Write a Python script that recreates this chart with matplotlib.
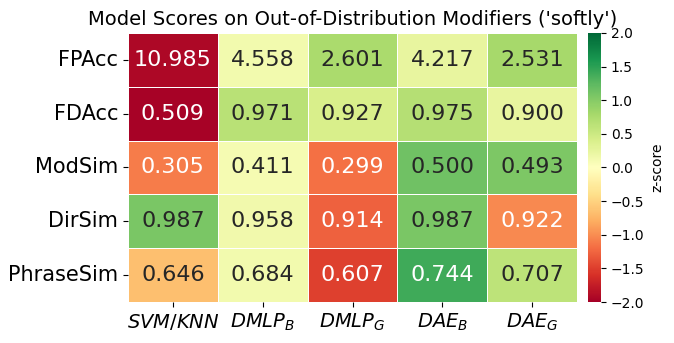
import numpy as np
import pandas as pd
import matplotlib
matplotlib.use("Agg")
import matplotlib.pyplot as plt
import seaborn as sns

models = ["$SVM/KNN$", "$DMLP_B$", "$DMLP_G$", "$DAE_B$", "$DAE_G$"]
metrics = ["FPAcc", "FDAcc", "ModSim", "DirSim", "PhraseSim"]

fpacc = [10.985, 4.558, 2.601, 4.217, 2.531]
fdacc = [0.509, 0.971, 0.927, 0.975, 0.900]
modsim = [0.305, 0.411, 0.299, 0.500, 0.493]
dirsim = [0.987, 0.958, 0.914, 0.987, 0.922]
phrasesim = [0.646, 0.684, 0.607, 0.744, 0.707]

scores = pd.DataFrame([fpacc, fdacc, modsim, dirsim, phrasesim],
                      index=metrics, columns=models)

# row-wise z-scores; FPAcc is lower-is-better so flip its sign
z = scores.sub(scores.mean(axis=1), axis=0).div(scores.std(axis=1, ddof=0), axis=0)
z.loc["FPAcc"] = -z.loc["FPAcc"]

fig = plt.figure(figsize=(6.74, 3.43), dpi=100)
ax = fig.add_axes([128/674, 1 - 302/343, 449/674, 269/343])
cax = fig.add_axes([588/674, 1 - 302/343, 13/674, 269/343])

sns.heatmap(z, annot=scores.values, fmt=".3f", cmap="RdYlGn", vmin=-2, vmax=2,
            linewidths=0.5, linecolor="white", ax=ax, cbar_ax=cax,
            annot_kws={"fontsize": 16}, cbar_kws={"label": "z-score"})

ax.set_title("Model Scores on Out-of-Distribution Modifiers ('softly')", fontsize=14)
ax.set_xticklabels(ax.get_xticklabels(), fontsize=14, rotation=0)
ax.set_yticklabels(ax.get_yticklabels(), fontsize=15, rotation=0)
cax.set_yticks(np.arange(-2, 2.01, 0.5))
cax.tick_params(labelsize=10)

plt.savefig("out.png", dpi=100)
